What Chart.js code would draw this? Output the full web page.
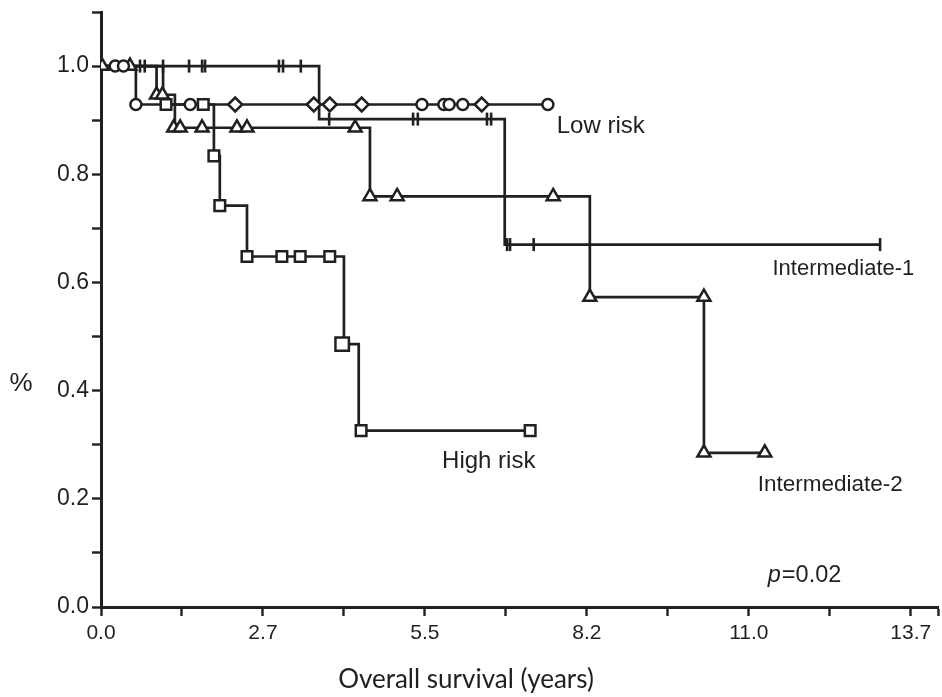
<!DOCTYPE html>
<html>
<head>
<meta charset="utf-8">
<script src="https://cdn.jsdelivr.net/npm/chart.js@4/dist/chart.umd.min.js"></script>
<style>
  html, body { margin: 0; padding: 0; background: #fff; overflow: hidden; }
  #wrap { width: 950px; height: 697px; position: relative; }
</style>
</head>
<body>
<div id="wrap"><canvas id="km"></canvas></div>
<script>
// ---- DATA (time in years, survival fraction) ----
// step curves: [time, survival after that time]
const lowStepT  = [0, 0.59, 7.56];
const lowStepS  = [1, 0.929, 0.929];
const int1StepT = [0, 3.69, 6.83, 13.18];
const int1StepS = [1, 0.902, 0.670, 0.670];
const int2StepT = [0, 0.94, 1.25, 4.55, 8.27, 10.20, 11.23];
const int2StepS = [1, 0.947, 0.886, 0.759, 0.573, 0.285, 0.285];
const highStepT = [0, 1.05, 1.91, 2.01, 2.47, 4.11, 4.36, 7.26];
const highStepS = [1, 0.929, 0.834, 0.742, 0.648, 0.486, 0.326, 0.326];

// symbols
const lowCircT  = [0.24, 0.38, 0.59, 1.51, 5.43, 5.80, 5.89, 6.12, 7.56];
const lowCircS  = [1, 1, 0.929, 0.929, 0.929, 0.929, 0.929, 0.929, 0.929];
const lowDiamT  = [2.27, 3.60, 3.87, 4.41, 6.44];
const lowDiamS  = [0.929, 0.929, 0.929, 0.929, 0.929];
const int1TickT = [0.66, 0.74, 1.05, 1.49, 1.71, 1.76, 3.01, 3.08, 3.38, 3.86, 5.28, 5.36, 6.53, 6.60, 6.87, 6.92, 7.32, 13.18];
const int1TickS = [1, 1, 1, 1, 1, 1, 1, 1, 1, 0.902, 0.902, 0.902, 0.902, 0.902, 0.670, 0.670, 0.670, 0.670];
const int2TriT  = [0.02, 0.49, 0.94, 1.04, 1.23, 1.34, 1.71, 2.30, 2.47, 4.30, 4.55, 5.01, 7.65, 8.27, 10.20, 10.20, 11.23];
const int2TriS  = [1, 1, 0.947, 0.947, 0.886, 0.886, 0.886, 0.886, 0.886, 0.886, 0.759, 0.759, 0.759, 0.573, 0.573, 0.285, 0.285];
const highSqT   = [1.10, 1.73, 1.91, 2.01, 2.47, 3.06, 3.37, 3.87, 4.40, 7.26];
const highSqS   = [0.929, 0.929, 0.834, 0.742, 0.648, 0.648, 0.648, 0.648, 0.326, 0.326];
const highBigSqT = [4.08];
const highBigSqS = [0.486];

// axes
const xMax = 14.16;
const xTickValues = [0, 1.37, 2.74, 4.11, 5.48, 6.85, 8.22, 9.59, 10.96, 12.33, 13.70, 14.16];
const xTickLabels = ['0.0', '', '2.7', '', '5.5', '', '8.2', '', '11.0', '', '13.7', ''];
const yTickValues = [0, 0.1, 0.2, 0.3, 0.4, 0.5, 0.6, 0.7, 0.8, 0.9, 1.0, 1.1];
const yTickLabels = ['0.0', '', '0.2', '', '0.4', '', '0.6', '', '0.8', '', '1.0', ''];
const xTitle = 'Overall survival (years)';
const yTitle = '%';

// curve labels
const curveLabels = ['Low risk', 'Intermediate-1', 'High risk', 'Intermediate-2'];
const curveLabelT = [7.71, 11.36, 5.77, 11.11];
const curveLabelS = [0.889, 0.625, 0.270, 0.225];
const pText = '0.02';

const ink = '#231f20';
const sans = "Arial, 'Liberation Sans', Helvetica, sans-serif";
const labelPx = [24, 22, 24, 22.5];
const pts = (ts, ss) => ts.map((t, i) => ({ x: t, y: ss[i] }));

function stepSet(ts, ss) {
  return {
    type: 'line', data: pts(ts, ss), stepped: 'before',
    borderColor: ink, borderWidth: 2.7, pointRadius: 0, fill: false, order: 2,
  };
}
function symSet(ts, ss, style, r, extra) {
  return Object.assign({
    type: 'scatter', data: pts(ts, ss), showLine: false,
    pointStyle: style, pointRadius: r, pointHoverRadius: r,
    pointBackgroundColor: '#fff', pointBorderColor: ink, pointBorderWidth: 2.5, order: 1,
  }, extra || {});
}

// ---- text overlay ----
const labelPlugin = {
  id: 'kmLabels',
  afterDatasetsDraw(chart) {
    const { ctx, scales: { x, y } } = chart;
    ctx.save();
    ctx.fillStyle = ink;
    ctx.textBaseline = 'middle';
    ctx.textAlign = 'left';
    curveLabels.forEach((txt, i) => {
      ctx.font = labelPx[i] + 'px ' + sans;
      ctx.fillText(txt, x.getPixelForValue(curveLabelT[i]), y.getPixelForValue(curveLabelS[i]));
    });
    // p value
    const px = x.getPixelForValue(11.28), py = y.getPixelForValue(0.059);
    ctx.font = 'italic 23.5px ' + sans;
    ctx.fillText('p', px, py);
    const pw = ctx.measureText('p').width;
    ctx.font = '23.5px ' + sans;
    ctx.fillText('=' + pText, px + pw + 1, py);
    // axis titles
    ctx.textAlign = 'center';
    ctx.font = '26px ' + sans;
    ctx.fillText(yTitle, 21, y.getPixelForValue(0.413));
    ctx.font = "26px Lato, 'Open Sans', sans-serif";
    ctx.fillText(xTitle, 466, 680);
    ctx.restore();
  }
};

new Chart(document.getElementById('km'), {
  data: {
    datasets: [
      stepSet(lowStepT, lowStepS),
      stepSet(int1StepT, int1StepS),
      stepSet(int2StepT, int2StepS),
      stepSet(highStepT, highStepS),
      symSet(int1TickT, int1TickS, 'line', 6.5, { pointRotation: 90, pointBorderWidth: 2.6 }),
      symSet(lowCircT, lowCircS, 'circle', 5.5),
      symSet(lowDiamT, lowDiamS, 'rectRot', 7),
      symSet(int2TriT, int2TriS, 'triangle', 7.5),
      symSet(highSqT, highSqS, 'rect', 7.5),
      symSet(highBigSqT, highBigSqS, 'rect', 9.5),
    ]
  },
  options: {
    responsive: true,
    maintainAspectRatio: false,
    animation: false,
    layout: { padding: { top: 8, right: 4, left: 0, bottom: 0 } },
    plugins: { legend: { display: false }, tooltip: { enabled: false } },
    scales: {
      x: {
        type: 'linear', min: 0, max: xMax,
        afterBuildTicks: s => { s.ticks = xTickValues.map(v => ({ value: v })); },
        afterFit: s => { s.height = 90; s.paddingLeft = 0; s.paddingRight = 0; },
        border: { display: true, color: ink, width: 3 },
        grid: { drawOnChartArea: false, drawTicks: true, tickLength: 9, tickWidth: 2.4, tickColor: ink },
        ticks: {
          autoSkip: false, maxRotation: 0, padding: 5, color: ink,
          font: { family: sans, size: 21 },
          callback: (v, i) => xTickLabels[i],
        },
      },
      y: {
        type: 'linear', min: 0, max: 1.1,
        afterBuildTicks: s => { s.ticks = yTickValues.map(v => ({ value: v })); },
        afterFit: s => { s.width = 101; s.paddingTop = 0; s.paddingBottom = 0; },
        border: { display: true, color: ink, width: 3 },
        grid: { drawOnChartArea: false, drawTicks: true, tickLength: 9, tickWidth: 2.4, tickColor: ink },
        ticks: {
          autoSkip: false, padding: 3, color: ink,
          font: { family: sans, size: 23 },
          callback: (v, i) => yTickLabels[i],
        },
      }
    }
  },
  plugins: [labelPlugin]
});
</script>
</body>
</html>
